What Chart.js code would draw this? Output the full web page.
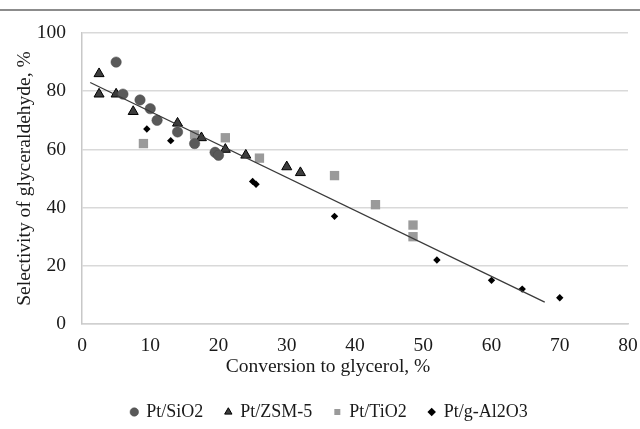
<!DOCTYPE html>
<html>
<head>
<meta charset="utf-8">
<script src="https://cdn.jsdelivr.net/npm/chart.js@4"></script>
<style>
  body { margin: 0; background: #fff; }
  #wrap { position: relative; width: 640px; height: 429px; }
  #topline { position: absolute; left: 0; top: 9px; width: 640px; height: 2px; background: #8c8c8c; }
  canvas { position: absolute; left: 0; top: 0; }
</style>
</head>
<body>
<div id="wrap">
  <div id="topline"></div>
  <canvas id="mainChart" width="640" height="429"></canvas>
</div>
<script>
// dati
const sio2X = [5, 6, 8.5, 10, 11, 14, 16.5, 19.5, 20]
const sio2Y = [90, 79, 77, 74, 70, 66, 62, 59, 58]
const zsmX = [2.5, 2.5, 5, 7.5, 14, 17.5, 21, 24, 30, 32]
const zsmY = [86, 79, 79, 73, 69, 64, 60, 58, 54, 52]
const tioX = [9, 16.5, 21, 26, 37, 43, 48.5, 48.5]
const tioY = [62, 65, 64, 57, 51, 41, 34, 30]
const alX = [9.5, 13, 25, 25.5, 37, 52, 60, 64.5, 70]
const alY = [67, 63, 49, 48, 37, 22, 15, 12, 9]
const trendX = [1.2, 67.8]
const trendY = [83, 7.5]

const seriesNames = [`Pt/SiO2`, `Pt/ZSM-5`, `Pt/TiO2`, `Pt/g-Al2O3`]
const xTitle = `Conversion to glycerol, %`
const yTitle = `Selectivity of glyceraldehyde, %`

const toPoints = (xs, ys) => xs.map((x, i) => ({ x: x, y: ys[i] }))

const font = { family: `Liberation Serif`, size: 19.5 }
const legendFont = { family: `Liberation Serif`, size: 18 }
const textColor = `#1a1a1a`

// titolo asse X disegnato a mano (in Excel non e' centrato sull'area) + spostamento legenda
const xTitlePlugin = {
  id: `xTitle`,
  afterLayout(chart) {
    chart.legend.left += 22
    chart.legend.top += 2
    chart.legend.bottom += 2
  },
  afterDraw(chart) {
    const ctx = chart.ctx
    ctx.save()
    ctx.font = `19.5px "Liberation Serif"`
    ctx.fillStyle = textColor
    ctx.textAlign = `center`
    ctx.textBaseline = `middle`
    ctx.fillText(xTitle, 328, 367)
    ctx.restore()
  },
}

new Chart(document.getElementById(`mainChart`), {
  type: `scatter`,
  data: {
    datasets: [
      {
        label: seriesNames[0],
        data: toPoints(sio2X, sio2Y),
        pointStyle: `circle`,
        pointRadius: 5.2,
        backgroundColor: `#595959`,
        borderColor: `#4a4a4a`,
        borderWidth: 0.5,
      },
      {
        label: seriesNames[1],
        data: toPoints(zsmX, zsmY),
        pointStyle: `triangle`,
        pointRadius: 5.8,
        backgroundColor: `#3d3d3d`,
        borderColor: `#000`,
        borderWidth: 1,
      },
      {
        label: seriesNames[2],
        data: toPoints(tioX, tioY),
        pointStyle: `rect`,
        pointRadius: 6.6,
        backgroundColor: `#9a9a9a`,
        borderColor: `#9a9a9a`,
        borderWidth: 0,
      },
      {
        label: seriesNames[3],
        data: toPoints(alX, alY),
        pointStyle: `rectRot`,
        pointRadius: 3.7,
        backgroundColor: `#000`,
        borderColor: `#000`,
        borderWidth: 0,
      },
      {
        label: `trend`,
        data: toPoints(trendX, trendY),
        showLine: true,
        pointRadius: 0,
        borderColor: `#3a3a3a`,
        borderWidth: 1.3,
        order: -1,
      },
    ],
  },
  options: {
    responsive: false,
    animation: false,
    layout: { padding: { left: 0, right: 3, top: 33, bottom: 0 } },
    scales: {
      x: {
        type: `linear`,
        min: 0,
        max: 80,
        ticks: { stepSize: 10, font: font, color: textColor, padding: 10 },
        grid: { display: false, drawTicks: false },
        border: { display: true, color: `#d0d0d0`, width: 1.5 },
        afterFit(scale) {
          scale.height = 55
          scale.paddingRight = 12
        },
      },
      y: {
        min: 0,
        max: 100,
        ticks: { stepSize: 20, font: font, color: textColor, padding: 16 },
        grid: { color: `#d9d9d9`, lineWidth: 1.5, drawTicks: false },
        border: { display: true, color: `#c8c8c8`, width: 1.5 },
        title: { display: true, text: yTitle, font: font, color: textColor, padding: { top: 13, bottom: 0 } },
        afterFit(scale) {
          scale.width = 82
        },
      },
    },
    plugins: {
      legend: {
        position: `bottom`,
        labels: {
          usePointStyle: true,
          boxWidth: 6,
          boxHeight: 6,
          padding: 22,
          font: legendFont,
          color: textColor,
          filter: (item) => item.text !== `trend`,
        },
      },
      tooltip: { enabled: false },
    },
  },
  plugins: [xTitlePlugin],
})
</script>
</body>
</html>
